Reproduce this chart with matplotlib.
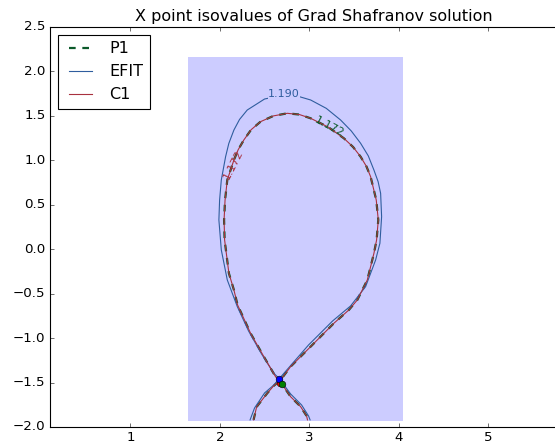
import numpy as np
import matplotlib
matplotlib.use("Agg")
import matplotlib.pyplot as plt
from matplotlib.patches import Rectangle

# computational domain (R, Z extents)
r_domain = [1.64, 4.05]
z_domain = [-1.93, 2.16]

# EFIT separatrix, psi = 1.190
efit_r = [2.338, 2.388, 2.500, 2.601, 2.664, 2.768, 2.992, 3.261, 3.462, 3.630,
          3.742, 3.790, 3.809, 3.798, 3.770, 3.723, 3.660, 3.574, 3.470, 3.350,
          3.190, 3.015, 2.870, 2.716, 2.500, 2.306, 2.220, 2.157, 2.100, 2.064,
          2.016, 1.997, 1.989, 2.016, 2.083, 2.195, 2.321, 2.466, 2.601, 2.664,
          2.791, 2.914, 2.992, 3.009]
efit_z = [-1.92, -1.786, -1.617, -1.530, -1.456, -1.336, -1.077, -0.807, -0.638, -0.421,
          -0.121, 0.067, 0.366, 0.629, 0.760, 0.891, 1.050, 1.192, 1.330, 1.454,
          1.585, 1.679, 1.722, 1.735, 1.690, 1.566, 1.460, 1.341, 1.190, 1.041,
          0.779, 0.554, 0.329, -0.008, -0.346, -0.646, -0.920, -1.178, -1.392, -1.456,
          -1.628, -1.752, -1.876, -1.92]

# P1 / C1 separatrix, psi = 1.172
sep_r = [2.377, 2.411, 2.530, 2.601, 2.679, 2.791, 3.015, 3.275, 3.443, 3.537,
         3.649, 3.723, 3.753, 3.772, 3.749, 3.686, 3.640, 3.574, 3.490, 3.387,
         3.210, 3.015, 2.890, 2.754, 2.600, 2.455, 2.350, 2.268, 2.205, 2.157,
         2.083, 2.058, 2.047, 2.053, 2.101, 2.157, 2.198, 2.343, 2.492, 2.623,
         2.701, 2.791, 2.903, 2.970, 2.980]
sep_z = [-1.92, -1.774, -1.620, -1.538, -1.471, -1.321, -1.096, -0.833, -0.683, -0.571,
         -0.346, -0.046, 0.104, 0.329, 0.554, 0.816, 0.930, 1.041, 1.150, 1.248,
         1.375, 1.473, 1.515, 1.529, 1.500, 1.435, 1.345, 1.229, 1.120, 1.004,
         0.779, 0.554, 0.329, 0.104, -0.271, -0.458, -0.627, -0.945, -1.209, -1.434,
         -1.527, -1.659, -1.771, -1.876, -1.92]

# X points found by each method
xpt_efit = (2.664, -1.456)
xpt_c1 = (2.67, -1.51)
xpt_p1 = (2.70, -1.52)

col_p1 = '#0b5a2a'
col_efit = '#2f5d9e'
col_c1 = '#a8313f'

plt.style.use('classic')
fig = plt.figure(figsize=(555 / 80.0, 446 / 80.0), dpi=80)
ax = fig.add_axes([50 / 555.0, 19 / 446.0, 527.5 / 555.0, 400 / 446.0])

ax.add_patch(Rectangle((r_domain[0], z_domain[0]), r_domain[1] - r_domain[0],
                       z_domain[1] - z_domain[0], facecolor='#ccccff', edgecolor='none'))

ax.plot(sep_r, sep_z, '--', color=col_p1, lw=2, label='P1')
ax.plot(efit_r, efit_z, '-', color=col_efit, lw=1, label='EFIT')
ax.plot(sep_r, sep_z, '-', color=col_c1, lw=1, label='C1')

ax.plot([xpt_c1[0]], [xpt_c1[1]], 'o', color='r', mec='k', mew=0.5)
ax.plot([xpt_efit[0]], [xpt_efit[1]], 'o', color='b', mec='k', mew=0.5)
ax.plot([xpt_p1[0]], [xpt_p1[1]], 'o', color='g', mec='k', mew=0.5)

# contour labels
ax.text(2.715, 1.745, '1.190', color=col_efit, fontsize=10, ha='center', va='center',
        bbox=dict(facecolor='#ccccff', edgecolor='none', pad=0))
ax.text(3.22, 1.38, '1.172', color=col_p1, fontsize=10, ha='center', va='center', rotation=-28)
ax.text(2.15, 0.95, '1.172', color=col_c1, fontsize=10, ha='center', va='center', rotation=63)

ax.set_xlim(0.1, 6.0)
ax.set_ylim(-2.0, 2.5)
ax.set_xticks([1, 2, 3, 4, 5])
ax.set_title('X point isovalues of Grad Shafranov solution')
ax.legend(loc='upper left')

fig.savefig('out.png', dpi=80)
